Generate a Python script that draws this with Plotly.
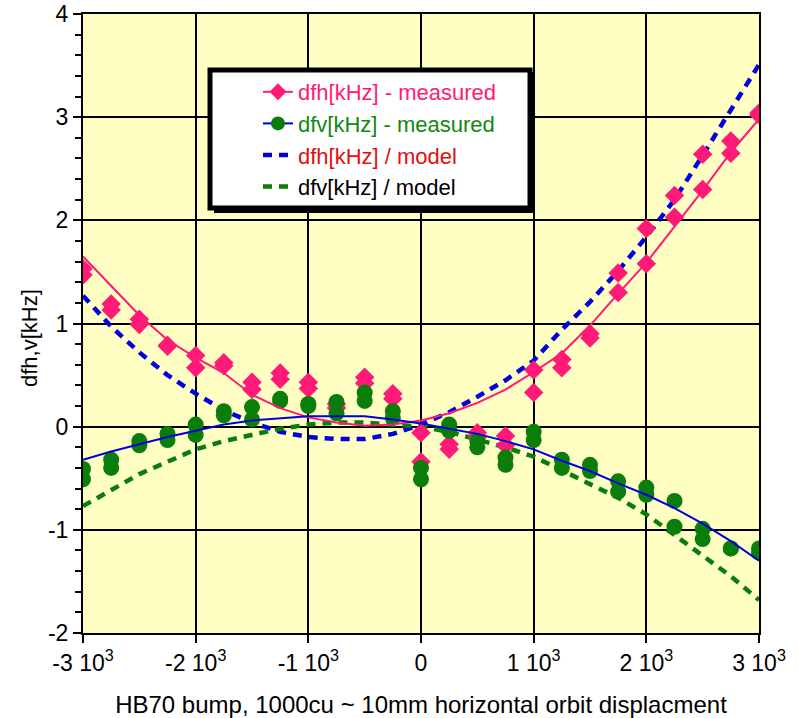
import plotly.graph_objects as go

# ---------------- data ----------------
x_meas = [-3000, -2750, -2500, -2250, -2000, -1750, -1500, -1250, -1000, -750, -500, -250,
          0, 250, 500, 750, 1000, 1250, 1500, 1750, 2000, 2250, 2500, 2750, 3000]

dfh_run1 = [1.53, 1.19, 1.04, 0.79, 0.69, 0.62, 0.43, 0.52, 0.43, 0.22, 0.48, 0.32,
            -0.06, -0.17, -0.06, -0.09, 0.55, 0.65, 0.90, 1.49, 1.92, 2.24, 2.64, 2.77, 3.04]
dfh_run2 = [1.47, 1.13, 0.99, 0.78, 0.57, 0.59, 0.36, 0.46, 0.37, 0.18, 0.42, 0.27,
            -0.34, -0.22, -0.10, -0.18, 0.33, 0.57, 0.86, 1.30, 1.58, 2.03, 2.30, 2.65, 3.02]

dfv_run1 = [-0.41, -0.32, -0.14, -0.07, 0.02, 0.15, 0.19, 0.27, 0.22, 0.24, 0.33, 0.15,
            -0.40, 0.02, -0.14, -0.30, -0.05, -0.32, -0.37, -0.53, -0.59, -0.72, -0.99, -1.18, -1.18]
dfv_run2 = [-0.51, -0.40, -0.18, -0.13, -0.08, 0.11, 0.07, 0.25, 0.20, 0.13, 0.25, 0.09,
            -0.51, -0.04, -0.20, -0.37, -0.13, -0.40, -0.43, -0.63, -0.66, -0.97, -1.09, -1.18, -1.22]

x_curve = x_meas
dfh_fit = [1.65, 1.37, 1.08, 0.84, 0.67, 0.52, 0.31, 0.18, 0.09, 0.04, 0.01, 0.02,
           0.06, 0.13, 0.23, 0.36, 0.53, 0.71, 0.98, 1.29, 1.59, 1.94, 2.29, 2.66, 2.98]
dfv_fit = [-0.32, -0.24, -0.17, -0.10, -0.04, 0.02, 0.06, 0.08, 0.10, 0.10, 0.10, 0.07,
           0.03, -0.02, -0.07, -0.14, -0.22, -0.33, -0.43, -0.55, -0.66, -0.79, -0.94, -1.11, -1.30]
dfh_model = [1.27, 0.97, 0.72, 0.50, 0.32, 0.16, 0.04, -0.05, -0.10, -0.12, -0.12, -0.07,
             0.02, 0.14, 0.29, 0.45, 0.64, 0.94, 1.21, 1.51, 1.84, 2.20, 2.63, 3.06, 3.51]
dfv_model = [-0.77, -0.61, -0.46, -0.34, -0.22, -0.14, -0.08, -0.02, 0.02, 0.04, 0.04, 0.02,
             0.00, -0.05, -0.12, -0.20, -0.29, -0.42, -0.55, -0.69, -0.85, -1.05, -1.24, -1.45, -1.68]

x_ticks = [-3000, -2000, -1000, 0, 1000, 2000, 3000]
x_ticktext = ["-3 10<sup>3</sup>", "-2 10<sup>3</sup>", "-1 10<sup>3</sup>", "0",
              "1 10<sup>3</sup>", "2 10<sup>3</sup>", "3 10<sup>3</sup>"]
y_ticks = [-2, -1, 0, 1, 2, 3, 4]
y_ticktext = ["-2", "-1", "0", "1", "2", "3", "4"]

legend_names = [
    "<span style='color:#ff1a78'>dfh[kHz] - measured</span>",
    "<span style='color:#118a11'>dfv[kHz] - measured</span>",
    "<span style='color:#e01010'>dfh[kHz] / model</span>",
    "<span style='color:#000000'>dfv[kHz] / model</span>",
]

PINK = "#ff1a78"
GREEN = "#0a7d0a"
BLUE = "#0000dd"
FONT = "Liberation Sans, Arial, sans-serif"

fig = go.Figure()

# model curves (dashed)
fig.add_trace(go.Scatter(x=x_curve, y=dfh_model, mode="lines", showlegend=False,
                         line=dict(color=BLUE, width=4.5, dash="9px,7px")))
fig.add_trace(go.Scatter(x=x_curve, y=dfv_model, mode="lines", showlegend=False,
                         line=dict(color=GREEN, width=4.5, dash="9px,7px")))

# measured points
for run in (dfh_run1, dfh_run2):
    fig.add_trace(go.Scatter(x=x_meas, y=run, mode="markers", showlegend=False,
                             marker=dict(symbol="diamond", size=15, color=PINK)))
for run in (dfv_run1, dfv_run2):
    fig.add_trace(go.Scatter(x=x_meas, y=run, mode="markers", showlegend=False,
                             marker=dict(symbol="circle", size=16, color=GREEN)))

# fitted curves (solid)
fig.add_trace(go.Scatter(x=x_curve, y=dfh_fit, mode="lines", showlegend=False,
                         line=dict(color=PINK, width=2)))
fig.add_trace(go.Scatter(x=x_curve, y=dfv_fit, mode="lines", showlegend=False,
                         line=dict(color=BLUE, width=2)))

# legend entries
fig.add_trace(go.Scatter(x=[None], y=[None], mode="lines+markers", name=legend_names[0],
                         line=dict(color=PINK, width=2),
                         marker=dict(symbol="diamond", size=13, color=PINK)))
fig.add_trace(go.Scatter(x=[None], y=[None], mode="lines+markers", name=legend_names[1],
                         line=dict(color=BLUE, width=2),
                         marker=dict(symbol="circle", size=14, color=GREEN)))
fig.add_trace(go.Scatter(x=[None], y=[None], mode="lines", name=legend_names[2],
                         line=dict(color=BLUE, width=4.5, dash="9px,7px")))
fig.add_trace(go.Scatter(x=[None], y=[None], mode="lines", name=legend_names[3],
                         line=dict(color=GREEN, width=4.5, dash="9px,7px")))

W, H = 798, 718
L, R, T, B = 83, 39, 14, 85
pw, ph = W - L - R, H - T - B


def px(xp):
    return (xp - L) / pw


def py(yp):
    return (H - B - yp) / ph


shapes = [
    # legend shadow and box
    dict(type="rect", xref="paper", yref="paper", layer="above",
         x0=px(214), x1=px(535), y0=py(213), y1=py(72),
         fillcolor="black", line=dict(width=0)),
    dict(type="rect", xref="paper", yref="paper", layer="above",
         x0=px(210), x1=px(530), y0=py(208), y1=py(70),
         fillcolor="white", line=dict(color="black", width=5)),
]

annotations = [
    dict(text="dfh,v[kHz]", xref="paper", yref="paper", x=px(29), y=py(338),
         xanchor="center", yanchor="middle", textangle=-90, showarrow=False,
         font=dict(family=FONT, size=22, color="black")),
]

fig.update_layout(
    width=W, height=H,
    margin=dict(l=L, r=R, t=T, b=B, autoexpand=False),
    paper_bgcolor="white",
    plot_bgcolor="#ffffc4",
    font=dict(family=FONT, size=23, color="black"),
    shapes=shapes,
    annotations=annotations,
    showlegend=True,
    legend=dict(x=px(258), y=py(71), xanchor="left", yanchor="top",
                bgcolor="rgba(0,0,0,0)", borderwidth=0,
                font=dict(family=FONT, size=22), tracegroupgap=0),
    xaxis=dict(range=[-3000, 3000], tickvals=x_ticks, ticktext=x_ticktext,
               automargin=False,
               showgrid=True, gridcolor="black", gridwidth=2,
               showline=True, linecolor="black", linewidth=2, mirror=True,
               ticks="outside", ticklen=8, tickwidth=2, tickcolor="black",
               zeroline=False,
               title=dict(text="HB70 bump, 1000cu ~ 10mm horizontal orbit displacment",
                          font=dict(size=24), standoff=29)),
    yaxis=dict(range=[-2, 4], tickvals=y_ticks, ticktext=y_ticktext,
               automargin=False,
               showgrid=True, gridcolor="black", gridwidth=2,
               showline=True, linecolor="black", linewidth=2, mirror=True,
               ticks="outside", ticklen=8, tickwidth=2, tickcolor="black",
               zeroline=False,
               minor=dict(dtick=0.2, ticks="outside", ticklen=6, tickwidth=2,
                          tickcolor="black", showgrid=False)),
)

fig.write_html("out.html")
